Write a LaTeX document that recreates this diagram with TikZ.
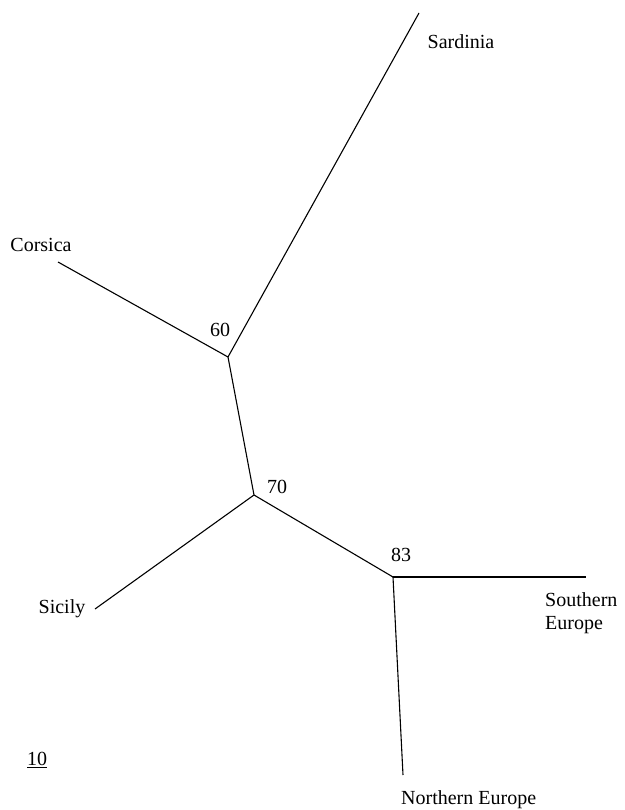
\documentclass[tikz,border=0pt]{standalone}
\usepackage{fontspec}
\setmainfont{Liberation Serif}
\begin{document}
\begin{tikzpicture}[x=1pt,y=-1pt,
  edge/.style={line width=1.1pt,black},
  lbl/.style={inner sep=0pt,font=\fontsize{20}{23}\selectfont}]
\useasboundingbox (0,0) rectangle (624,810);
% internal vertices and tips
\coordinate (n60) at (228,357);
\coordinate (n70) at (254,495);
\coordinate (n83) at (393,577);
\coordinate (tSar) at (419,13);
\coordinate (tCor) at (58,262);
\coordinate (tSic) at (95,609);
\coordinate (tSou) at (586,577);
\coordinate (tNor) at (403,775);
% edges
\draw[edge] (n60) -- (tSar);
\draw[edge] (n60) -- (tCor);
\draw[edge] (n60) -- (n70);
\draw[edge] (n70) -- (tSic);
\draw[edge] (n70) -- (n83);
\draw[edge] (n83) -- (tSou);
\draw[edge] (n83) -- (tNor);
% labels
\node[lbl] (lSar) at (461,42) {Sardinia};
\node[lbl] (lCor) at (41,245) {Corsica};
\node[lbl] (lSic) at (62,609) {Sicily};
\node[lbl,anchor=west,align=left] (lSou) at (545,613.5) {Southern\\Europe};
\node[lbl,anchor=west] (lNor) at (401,800) {Northern Europe};
\node[lbl] (b60) at (220,330) {60};
\node[lbl] (b70) at (277,487) {70};
\node[lbl] (b83) at (401,555) {83};
\node[lbl] (scale) at (37,760) {\underline{10}};
\end{tikzpicture}
\end{document}
